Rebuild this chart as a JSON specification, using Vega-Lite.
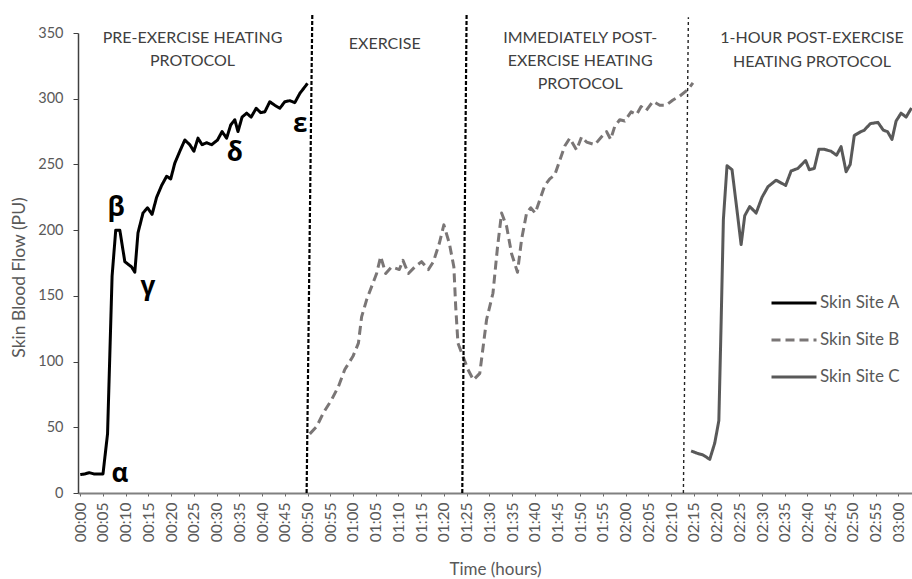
{
  "$schema": "https://vega.github.io/schema/vega-lite/v6.json",
  "width": 834,
  "height": 460,
  "autosize": {"type": "none"},
  "padding": {"left": 78, "top": 33, "right": 0, "bottom": 86},
  "background": "white",
  "config": {
    "view": {"stroke": null},
    "axis": {"grid": false, "labelFont": "Lato", "titleFont": "Lato", "labelOverlap": false},
    "axisX": {"labelOverlap": false, "labelFlush": false},
    "text": {"font": "Lato"}
  },
  "datasets": {
    "flow": [
      {"site": "Skin Site A", "min": 0, "val": 14},
      {"site": "Skin Site A", "min": 1, "val": 14.5},
      {"site": "Skin Site A", "min": 2, "val": 15.5},
      {"site": "Skin Site A", "min": 3, "val": 14.5},
      {"site": "Skin Site A", "min": 4, "val": 14.5},
      {"site": "Skin Site A", "min": 5, "val": 14.5},
      {"site": "Skin Site A", "min": 6, "val": 45},
      {"site": "Skin Site A", "min": 7, "val": 165},
      {"site": "Skin Site A", "min": 7.8, "val": 200},
      {"site": "Skin Site A", "min": 8.7, "val": 200},
      {"site": "Skin Site A", "min": 9.8, "val": 176},
      {"site": "Skin Site A", "min": 11.3, "val": 172},
      {"site": "Skin Site A", "min": 12, "val": 168},
      {"site": "Skin Site A", "min": 12.7, "val": 198},
      {"site": "Skin Site A", "min": 13.8, "val": 213},
      {"site": "Skin Site A", "min": 14.8, "val": 217},
      {"site": "Skin Site A", "min": 15.8, "val": 212},
      {"site": "Skin Site A", "min": 16.8, "val": 225},
      {"site": "Skin Site A", "min": 17.9, "val": 234},
      {"site": "Skin Site A", "min": 19, "val": 241},
      {"site": "Skin Site A", "min": 19.9, "val": 239},
      {"site": "Skin Site A", "min": 20.8, "val": 251},
      {"site": "Skin Site A", "min": 21.9, "val": 260},
      {"site": "Skin Site A", "min": 23, "val": 268.6},
      {"site": "Skin Site A", "min": 24.1, "val": 265},
      {"site": "Skin Site A", "min": 25, "val": 260},
      {"site": "Skin Site A", "min": 25.9, "val": 270},
      {"site": "Skin Site A", "min": 26.8, "val": 265},
      {"site": "Skin Site A", "min": 27.8, "val": 266.5},
      {"site": "Skin Site A", "min": 28.9, "val": 265},
      {"site": "Skin Site A", "min": 30.2, "val": 268.6},
      {"site": "Skin Site A", "min": 31.2, "val": 275},
      {"site": "Skin Site A", "min": 32.2, "val": 270},
      {"site": "Skin Site A", "min": 33.1, "val": 280},
      {"site": "Skin Site A", "min": 34, "val": 284},
      {"site": "Skin Site A", "min": 34.7, "val": 275},
      {"site": "Skin Site A", "min": 35.6, "val": 286},
      {"site": "Skin Site A", "min": 36.6, "val": 289},
      {"site": "Skin Site A", "min": 37.6, "val": 286},
      {"site": "Skin Site A", "min": 38.7, "val": 292.7},
      {"site": "Skin Site A", "min": 39.7, "val": 289.4},
      {"site": "Skin Site A", "min": 40.6, "val": 290},
      {"site": "Skin Site A", "min": 41.7, "val": 297.7},
      {"site": "Skin Site A", "min": 42.8, "val": 295},
      {"site": "Skin Site A", "min": 43.9, "val": 292.7},
      {"site": "Skin Site A", "min": 45, "val": 297.7},
      {"site": "Skin Site A", "min": 46.1, "val": 298.5},
      {"site": "Skin Site A", "min": 47.2, "val": 297},
      {"site": "Skin Site A", "min": 48.3, "val": 304},
      {"site": "Skin Site A", "min": 50, "val": 311.7},

      {"site": "Skin Site B", "min": 50.5, "val": 45},
      {"site": "Skin Site B", "min": 52, "val": 50.5},
      {"site": "Skin Site B", "min": 53.5, "val": 61},
      {"site": "Skin Site B", "min": 55.3, "val": 71},
      {"site": "Skin Site B", "min": 56.8, "val": 81},
      {"site": "Skin Site B", "min": 58.2, "val": 94},
      {"site": "Skin Site B", "min": 60, "val": 104},
      {"site": "Skin Site B", "min": 61.2, "val": 114},
      {"site": "Skin Site B", "min": 61.9, "val": 134},
      {"site": "Skin Site B", "min": 63, "val": 147},
      {"site": "Skin Site B", "min": 64.1, "val": 157},
      {"site": "Skin Site B", "min": 65.2, "val": 167},
      {"site": "Skin Site B", "min": 66.1, "val": 180},
      {"site": "Skin Site B", "min": 67.2, "val": 167},
      {"site": "Skin Site B", "min": 68.5, "val": 172},
      {"site": "Skin Site B", "min": 70.2, "val": 170},
      {"site": "Skin Site B", "min": 71, "val": 177},
      {"site": "Skin Site B", "min": 72.2, "val": 167},
      {"site": "Skin Site B", "min": 73.6, "val": 172},
      {"site": "Skin Site B", "min": 75.1, "val": 176},
      {"site": "Skin Site B", "min": 76.6, "val": 170},
      {"site": "Skin Site B", "min": 77.7, "val": 176},
      {"site": "Skin Site B", "min": 79, "val": 190},
      {"site": "Skin Site B", "min": 80, "val": 204},
      {"site": "Skin Site B", "min": 81.2, "val": 190},
      {"site": "Skin Site B", "min": 82.2, "val": 172},
      {"site": "Skin Site B", "min": 82.6, "val": 142},
      {"site": "Skin Site B", "min": 83.1, "val": 114},
      {"site": "Skin Site B", "min": 84.2, "val": 104},
      {"site": "Skin Site B", "min": 85.3, "val": 94},
      {"site": "Skin Site B", "min": 86.5, "val": 86},
      {"site": "Skin Site B", "min": 87.9, "val": 91},
      {"site": "Skin Site B", "min": 89.4, "val": 132},
      {"site": "Skin Site B", "min": 90.8, "val": 152},
      {"site": "Skin Site B", "min": 91.8, "val": 187},
      {"site": "Skin Site B", "min": 92.7, "val": 213},
      {"site": "Skin Site B", "min": 93.8, "val": 203},
      {"site": "Skin Site B", "min": 94.9, "val": 182},
      {"site": "Skin Site B", "min": 96.2, "val": 168},
      {"site": "Skin Site B", "min": 97.1, "val": 193},
      {"site": "Skin Site B", "min": 98.2, "val": 213},
      {"site": "Skin Site B", "min": 99.1, "val": 217},
      {"site": "Skin Site B", "min": 100.1, "val": 213},
      {"site": "Skin Site B", "min": 101.1, "val": 223},
      {"site": "Skin Site B", "min": 102.2, "val": 234},
      {"site": "Skin Site B", "min": 103.3, "val": 239},
      {"site": "Skin Site B", "min": 104.4, "val": 242},
      {"site": "Skin Site B", "min": 105.5, "val": 253},
      {"site": "Skin Site B", "min": 106.6, "val": 264},
      {"site": "Skin Site B", "min": 107.7, "val": 270},
      {"site": "Skin Site B", "min": 109.2, "val": 261},
      {"site": "Skin Site B", "min": 110.3, "val": 271},
      {"site": "Skin Site B", "min": 111.4, "val": 267},
      {"site": "Skin Site B", "min": 113.2, "val": 265},
      {"site": "Skin Site B", "min": 114.7, "val": 271},
      {"site": "Skin Site B", "min": 115.8, "val": 275},
      {"site": "Skin Site B", "min": 116.7, "val": 269},
      {"site": "Skin Site B", "min": 117.6, "val": 279},
      {"site": "Skin Site B", "min": 118.7, "val": 284},
      {"site": "Skin Site B", "min": 119.8, "val": 283},
      {"site": "Skin Site B", "min": 121.2, "val": 290},
      {"site": "Skin Site B", "min": 122.4, "val": 288},
      {"site": "Skin Site B", "min": 123.4, "val": 294},
      {"site": "Skin Site B", "min": 124.5, "val": 291},
      {"site": "Skin Site B", "min": 126, "val": 298},
      {"site": "Skin Site B", "min": 127.5, "val": 295},
      {"site": "Skin Site B", "min": 128.9, "val": 295},
      {"site": "Skin Site B", "min": 130.4, "val": 299},
      {"site": "Skin Site B", "min": 131.9, "val": 302},
      {"site": "Skin Site B", "min": 133.7, "val": 307},
      {"site": "Skin Site B", "min": 134.8, "val": 312},

      {"site": "Skin Site C", "min": 134.4, "val": 32},
      {"site": "Skin Site C", "min": 135.9, "val": 30},
      {"site": "Skin Site C", "min": 137, "val": 29},
      {"site": "Skin Site C", "min": 138.5, "val": 25.6},
      {"site": "Skin Site C", "min": 139.6, "val": 38},
      {"site": "Skin Site C", "min": 140.5, "val": 55},
      {"site": "Skin Site C", "min": 141, "val": 129},
      {"site": "Skin Site C", "min": 141.5, "val": 208},
      {"site": "Skin Site C", "min": 142.3, "val": 249},
      {"site": "Skin Site C", "min": 143.4, "val": 246},
      {"site": "Skin Site C", "min": 144.5, "val": 215},
      {"site": "Skin Site C", "min": 145.4, "val": 189},
      {"site": "Skin Site C", "min": 146.2, "val": 211},
      {"site": "Skin Site C", "min": 147.3, "val": 218},
      {"site": "Skin Site C", "min": 148.7, "val": 213},
      {"site": "Skin Site C", "min": 150, "val": 225},
      {"site": "Skin Site C", "min": 151.3, "val": 233},
      {"site": "Skin Site C", "min": 153.1, "val": 238},
      {"site": "Skin Site C", "min": 155.2, "val": 234},
      {"site": "Skin Site C", "min": 156.4, "val": 245},
      {"site": "Skin Site C", "min": 157.9, "val": 247},
      {"site": "Skin Site C", "min": 159.6, "val": 253},
      {"site": "Skin Site C", "min": 160.4, "val": 246},
      {"site": "Skin Site C", "min": 161.5, "val": 247},
      {"site": "Skin Site C", "min": 162.5, "val": 261.5},
      {"site": "Skin Site C", "min": 163.7, "val": 261.5},
      {"site": "Skin Site C", "min": 165.2, "val": 260},
      {"site": "Skin Site C", "min": 166.4, "val": 257},
      {"site": "Skin Site C", "min": 167.4, "val": 263.5},
      {"site": "Skin Site C", "min": 168.5, "val": 244.5},
      {"site": "Skin Site C", "min": 169.4, "val": 250},
      {"site": "Skin Site C", "min": 170.3, "val": 272},
      {"site": "Skin Site C", "min": 171.8, "val": 275},
      {"site": "Skin Site C", "min": 172.5, "val": 276},
      {"site": "Skin Site C", "min": 173.8, "val": 281},
      {"site": "Skin Site C", "min": 175.5, "val": 282},
      {"site": "Skin Site C", "min": 176.7, "val": 276},
      {"site": "Skin Site C", "min": 177.6, "val": 275},
      {"site": "Skin Site C", "min": 178.6, "val": 269},
      {"site": "Skin Site C", "min": 179.5, "val": 283},
      {"site": "Skin Site C", "min": 180.6, "val": 289},
      {"site": "Skin Site C", "min": 181.7, "val": 286},
      {"site": "Skin Site C", "min": 182.9, "val": 293}
    ],
    "dividers": [
      {"kind": "major", "minBottom": 49.8, "minTop": 51.05, "valBottom": 0, "valTop": 364},
      {"kind": "major", "minBottom": 84.05, "minTop": 85.0, "valBottom": 0, "valTop": 364},
      {"kind": "minor", "minBottom": 132.7, "minTop": 133.8, "valBottom": 0, "valTop": 362}
    ],
    "phases": [
      {"label": "PRE-EXERCISE HEATING", "min": 24.7, "val": 346.5},
      {"label": "PROTOCOL", "min": 24.7, "val": 328.5},
      {"label": "EXERCISE", "min": 67.0, "val": 342},
      {"label": "IMMEDIATELY POST-", "min": 110.0, "val": 346.5},
      {"label": "EXERCISE HEATING", "min": 110.0, "val": 329},
      {"label": "PROTOCOL", "min": 110.0, "val": 311.5},
      {"label": "1-HOUR POST-EXERCISE", "min": 161.0, "val": 346},
      {"label": "HEATING PROTOCOL", "min": 161.0, "val": 328}
    ],
    "greek": [
      {"label": "α", "min": 8.7, "val": 14.5},
      {"label": "β", "min": 7.9, "val": 217},
      {"label": "γ", "min": 14.9, "val": 157},
      {"label": "δ", "min": 34.0, "val": 259},
      {"label": "ε", "min": 48.4, "val": 281}
    ]
  },
  "layer": [
    {
      "data": {"name": "flow"},
      "mark": {"type": "line", "strokeWidth": 3, "strokeJoin": "round", "strokeCap": "butt"},
      "encoding": {
        "x": {
          "field": "min", "type": "quantitative",
          "scale": {"domain": [-0.5, 183], "nice": false, "zero": false},
          "axis": {
            "title": "Time (hours)",
            "values": [0, 5, 10, 15, 20, 25, 30, 35, 40, 45, 50, 55, 60, 65, 70, 75, 80, 85, 90, 95, 100, 105, 110, 115, 120, 125, 130, 135, 140, 145, 150, 155, 160, 165, 170, 175, 180],
            "tickCount": 200,
            "labelExpr": "'0' + floor(datum.value / 60) + ':' + (datum.value % 60 < 10 ? '0' : '') + (datum.value % 60)",
            "labelAngle": -90,
            "labelAlign": "right",
            "labelBaseline": "middle",
            "labelFontSize": 15.5,
            "labelColor": "#595959",
            "labelPadding": 6,
            "labelOverlap": false,
            "labelFlush": false,
            "tickSize": 3,
            "tickColor": "#666666",
            "domainColor": "#808080",
            "domainWidth": 2,
            "titleFontSize": 17,
            "titleFontWeight": "normal",
            "titleColor": "#595959",
            "titlePadding": 20
          }
        },
        "y": {
          "field": "val", "type": "quantitative",
          "scale": {"domain": [0, 350], "nice": false},
          "axis": {
            "title": "Skin Blood Flow (PU)",
            "values": [0, 50, 100, 150, 200, 250, 300, 350],
            "tickCount": 20,
            "labelFontSize": 14.5,
            "labelColor": "#595959",
            "labelPadding": 10,
            "tickSize": 5,
            "tickColor": "#404040",
            "domainColor": "#404040",
            "domainWidth": 1.5,
            "titleFontSize": 17.5,
            "titleFontWeight": "normal",
            "titleColor": "#595959",
            "titlePadding": 9,
            "titleY": 244
          }
        },
        "color": {
          "field": "site", "type": "nominal",
          "scale": {"domain": ["Skin Site A", "Skin Site B", "Skin Site C"], "range": ["#000000", "#7a7676", "#595959"]},
          "legend": {
            "title": null,
            "orient": "none",
            "legendX": 692,
            "legendY": 246,
            "symbolType": "stroke",
            "symbolSize": 2025,
            "symbolStrokeWidth": 3,
            "labelFont": "Lato",
            "labelFontSize": 17,
            "labelColor": "#595959",
            "labelOffset": 2,
            "rowPadding": 5,
            "padding": 0
          }
        },
        "strokeDash": {
          "field": "site", "type": "nominal",
          "scale": {"domain": ["Skin Site A", "Skin Site B", "Skin Site C"], "range": [[1, 0], [9, 5], [1, 0]]},
          "legend": {
            "title": null,
            "orient": "none",
            "legendX": 692,
            "legendY": 246,
            "symbolType": "stroke",
            "symbolSize": 2025,
            "symbolStrokeWidth": 3,
            "labelFont": "Lato",
            "labelFontSize": 17,
            "labelColor": "#595959",
            "labelOffset": 2,
            "rowPadding": 5,
            "padding": 0
          }
        }
      }
    },
    {
      "data": {"name": "dividers"},
      "transform": [{"filter": "datum.kind == 'major'"}],
      "mark": {"type": "rule", "color": "#000000", "strokeWidth": 2.2, "strokeDash": [4, 2]},
      "encoding": {
        "x": {"field": "minBottom", "type": "quantitative"},
        "x2": {"field": "minTop"},
        "y": {"field": "valBottom", "type": "quantitative"},
        "y2": {"field": "valTop"}
      }
    },
    {
      "data": {"name": "dividers"},
      "transform": [{"filter": "datum.kind == 'minor'"}],
      "mark": {"type": "rule", "color": "#222222", "strokeWidth": 1.4, "strokeDash": [3, 3]},
      "encoding": {
        "x": {"field": "minBottom", "type": "quantitative"},
        "x2": {"field": "minTop"},
        "y": {"field": "valBottom", "type": "quantitative"},
        "y2": {"field": "valTop"}
      }
    },
    {
      "data": {"name": "phases"},
      "mark": {"type": "text", "font": "Lato", "fontSize": 16, "color": "#404040", "align": "center", "baseline": "middle"},
      "encoding": {
        "x": {"field": "min", "type": "quantitative"},
        "y": {"field": "val", "type": "quantitative"},
        "text": {"field": "label"}
      }
    },
    {
      "data": {"name": "greek"},
      "mark": {"type": "text", "font": "Open Sans", "fontSize": 26, "fontWeight": "bold", "color": "#000000", "align": "center", "baseline": "middle"},
      "encoding": {
        "x": {"field": "min", "type": "quantitative"},
        "y": {"field": "val", "type": "quantitative"},
        "text": {"field": "label"}
      }
    }
  ]
}
